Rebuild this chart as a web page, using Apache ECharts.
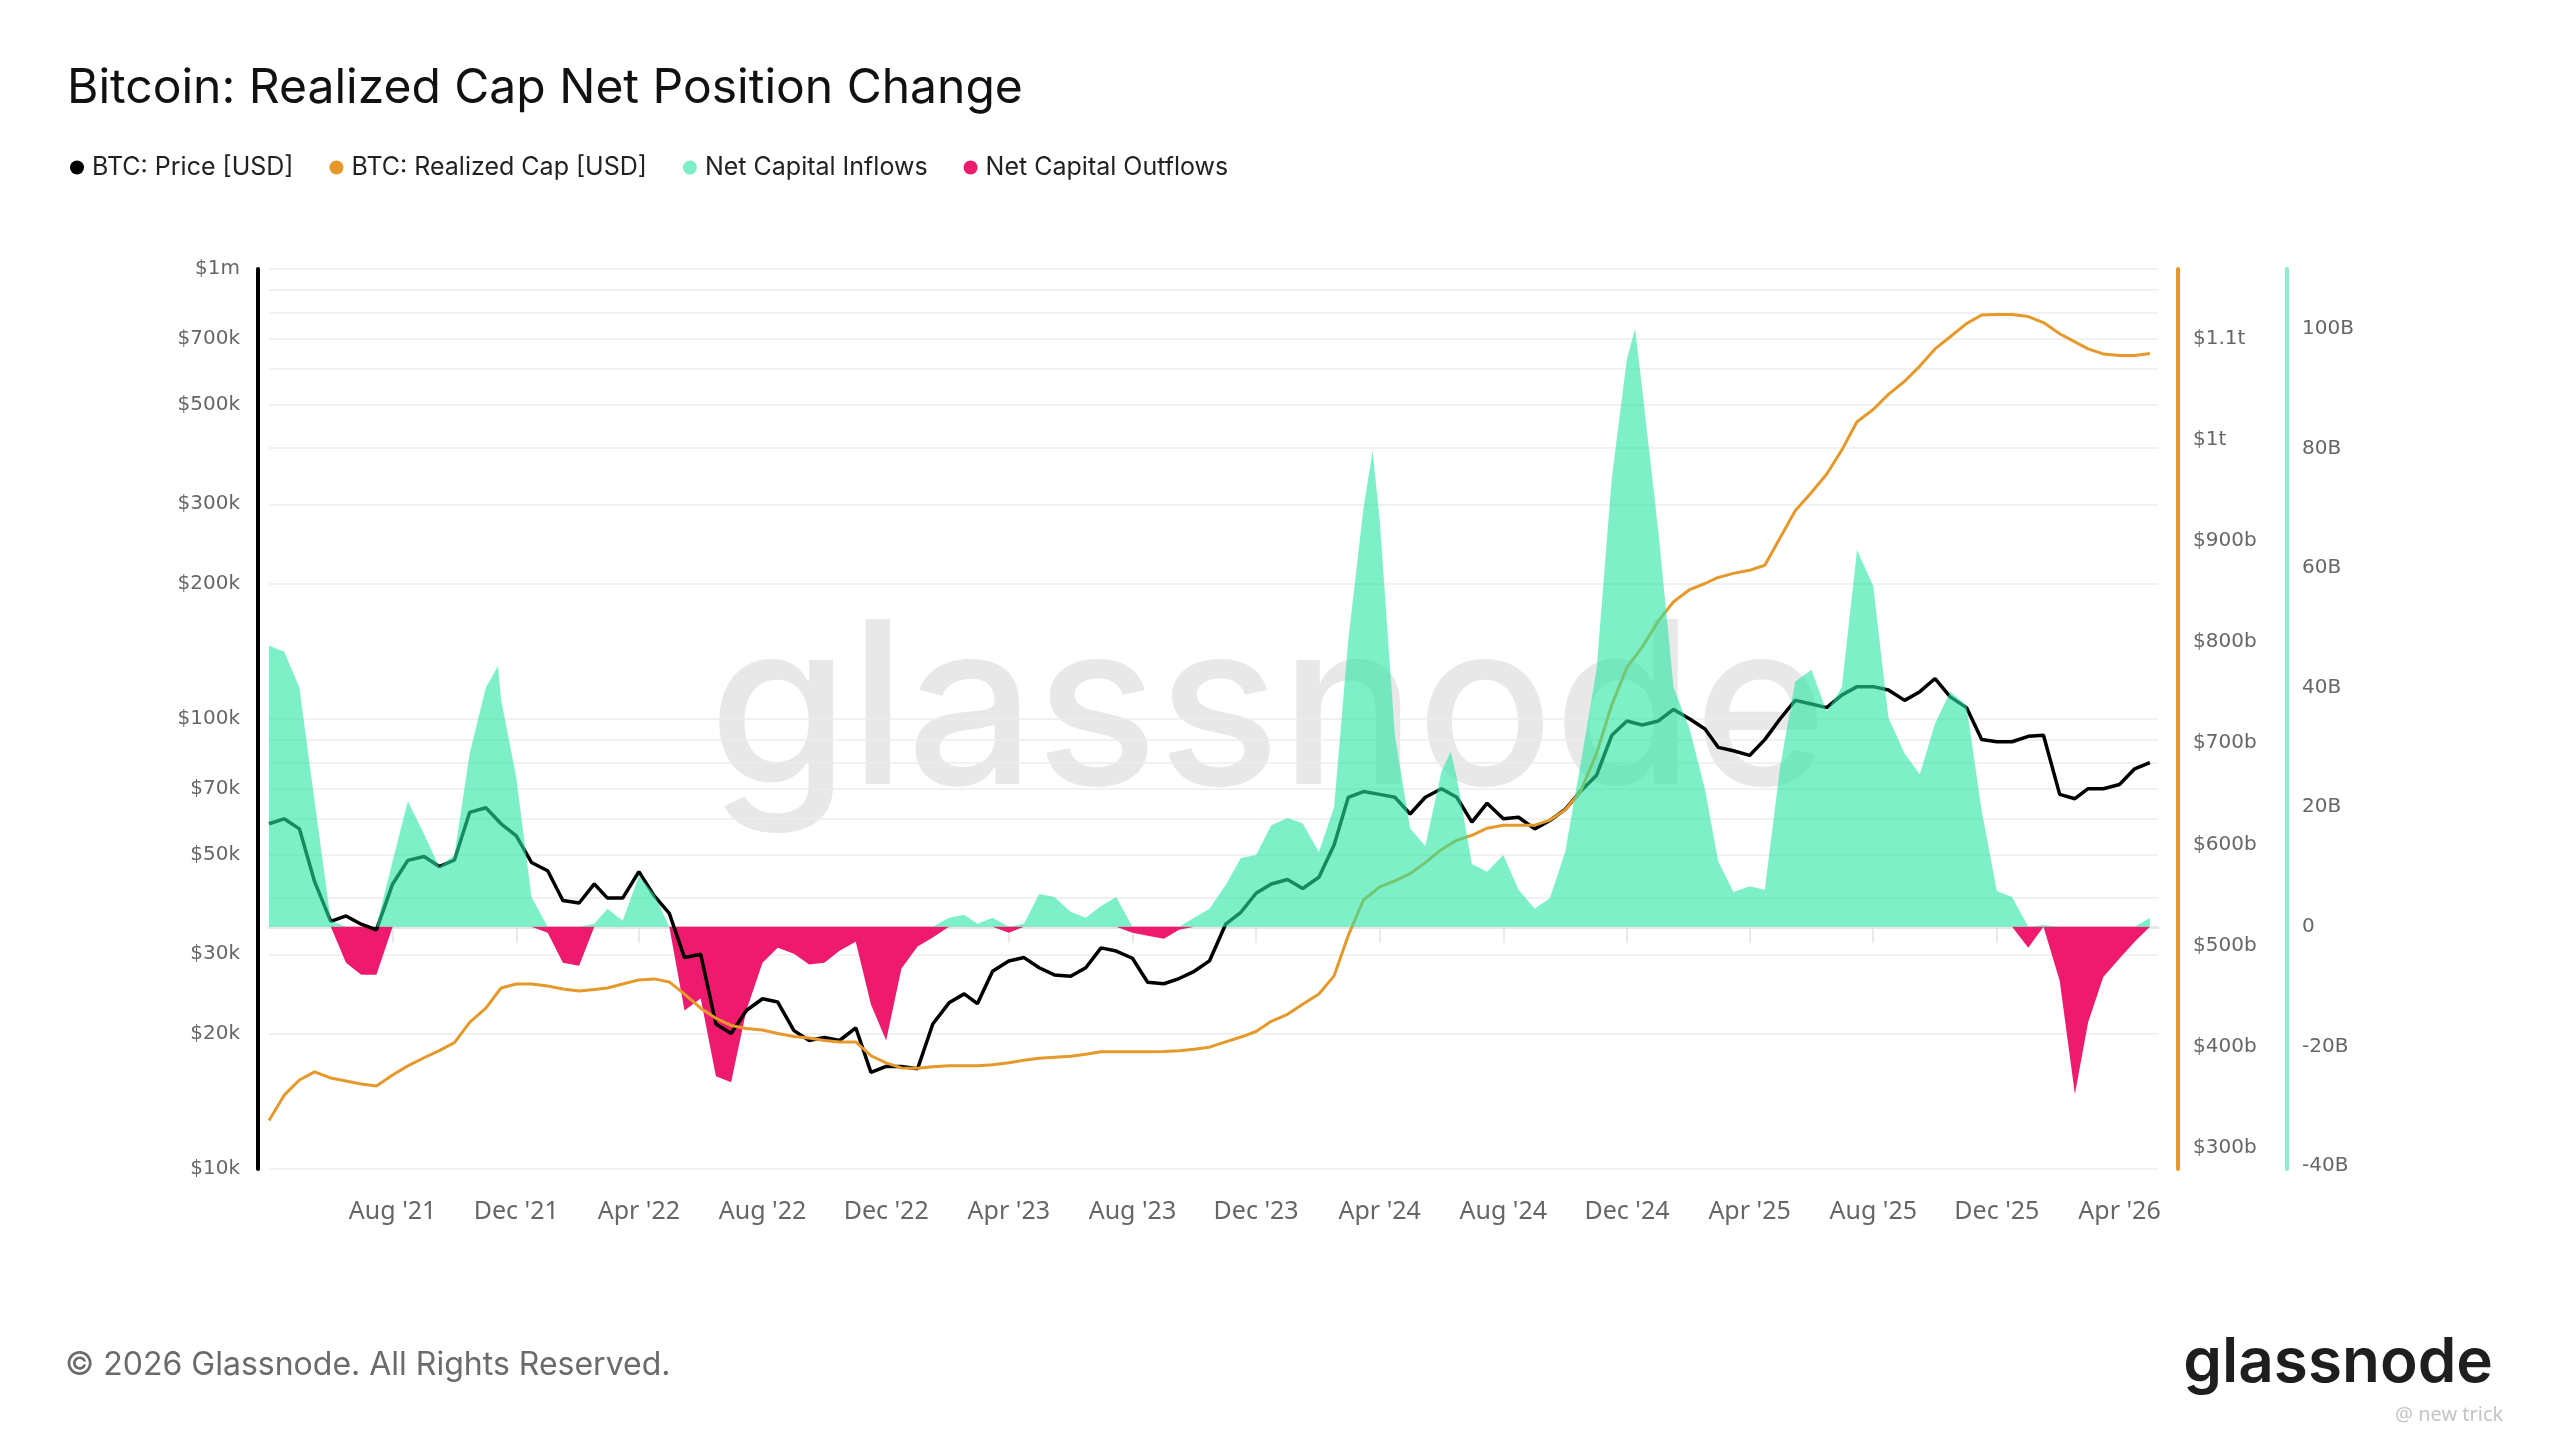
<!DOCTYPE html>
<html>
<head>
<meta charset="utf-8">
<title>Bitcoin: Realized Cap Net Position Change</title>
<script src="https://cdn.jsdelivr.net/npm/echarts@6.0.0/dist/echarts.min.js"></script>
<style>
  html, body { margin: 0; padding: 0; background: #ffffff; }
  #main { width: 2560px; height: 1440px; }
</style>
</head>
<body>
<div id="main"></div>
<script>
// samples on the 1st and 16th of each month, starting 1 Apr 2021
var priceK = [
  58.5, 60, 57, 43.5, 35.5, 36.5, 35, 34, 43, 48.5, 49.5, 47, 48.6, 62, 63.5, 58.5,
  55, 48, 46, 39.5, 39, 43, 40, 40, 45.8, 40.5, 37, 29.5, 30, 21, 20, 22.5,
  23.9, 23.5, 20.3, 19.3, 19.6, 19.3, 20.6, 16.4, 16.9, 16.9, 16.7, 21, 23.4, 24.5, 23.3, 27.5,
  29, 29.5, 28, 27, 26.8, 28, 31, 30.5, 29.4, 26, 25.8, 26.5, 27.5, 29, 35, 37.2,
  41, 43, 44, 42, 44.5, 52.5, 67, 69, 68, 67, 61.5, 67, 70, 67, 59, 65,
  60, 60.5, 57, 59.5, 63, 69, 75, 92, 99, 97, 99, 105, 100, 95, 86.5, 85,
  83, 90, 100, 110, 108, 106, 113, 118, 118, 116, 110, 115, 123, 112, 106, 90,
  89, 89, 91.5, 92, 68, 66.5, 70, 70, 71.5, 77.5, 80
];
var realizedCapB = [
  327, 352, 367, 375, 369, 366, 363, 361, 372, 381, 389, 396, 404, 424, 438, 458,
  462, 462, 460, 457, 455, 456.5, 458, 462, 466, 467, 464, 452, 438, 428, 421, 418,
  416.5, 413, 410, 408.5, 406, 404.7, 404.7, 391, 384, 379, 378.7, 380, 381, 381, 381, 382,
  384, 386.5, 388.5, 389.5, 390.5, 392.5, 395, 395, 395, 395, 395.2, 396, 397.5, 399.5, 404.7, 409.5,
  415, 425, 432, 442, 452, 470, 510, 545, 558, 564, 571, 582, 595, 604, 609, 616,
  619, 619, 619, 624, 634, 652, 690, 738, 775, 795, 821, 840, 852, 858, 864, 868,
  871, 876, 903, 930, 948, 966, 990, 1018, 1030, 1045, 1058, 1073, 1090, 1102, 1115, 1123.5,
  1124, 1124, 1122, 1116, 1105, 1097, 1090, 1085, 1083.5, 1083.5, 1085.5
];
var netFlowB = [
  47, 46, 40, 21, 1, -6, -8, -8, 11, 21, 15.5, 10, 12, 29, 40, 38,
  25, 5, -1, -6, -6.5, 0.5, 3, 1, 8.5, 5.5, 0, -14, -12, -25, -26, -14,
  -6, -3.5, -4.5, -6.3, -6, -4, -2.5, -13, -19, -7, -3.3, -1.8, 1.5, 2, 0.5, 1.5,
  -1, 0.5, 5.5, 5, 2.5, 1.5, 3.5, 5, -1, -1.5, -2, -0.5, 1.5, 3, 7, 11.5,
  12, 17, 18.2, 17.3, 12.5, 20, 48, 70, 68, 32, 16.5, 13.5, 26, 25, 10.5, 9.2,
  12, 6.2, 3, 4.8, 12.5, 27, 43, 75, 95, 90, 66, 40, 33, 23, 11, 5.8,
  6.8, 6.2, 26.6, 41, 43, 36, 40, 63, 57, 35, 29, 25.5, 34, 39.3, 37, 19.4,
  6, 5, -3.5, 0.3, -9, -28, -16, -8.4, -5.3, -2.5, 1.5
];
// peak readings that fall between the regular samples
var netFlowPeaks = [
  [Date.UTC(2021, 10, 13), 43.6],
  [Date.UTC(2024, 2, 25), 79.6],
  [Date.UTC(2024, 5, 10), 29.3],
  [Date.UTC(2024, 11, 9), 100]
];

var priceLabels = [10, 20, 30, 50, 70, 100, 200, 300, 500, 700, 1000];
var priceGrid = [10, 20, 30, 40, 50, 60, 70, 80, 90, 100, 200, 300, 400, 500, 600, 700, 800, 900, 1000];
var capLabels = [300, 400, 500, 600, 700, 800, 900, 1000, 1100];
var flowLabels = [-40, -20, 0, 20, 40, 60, 80, 100];
var MONTHS = ['Jan', 'Feb', 'Mar', 'Apr', 'May', 'Jun', 'Jul', 'Aug', 'Sep', 'Oct', 'Nov', 'Dec'];

var dates = [];
for (var i = 0; i < priceK.length; i++) {
  dates.push(Date.UTC(2021, 3 + Math.floor(i / 2), i % 2 ? 16 : 1));
}
var monthTicks = [];
for (var m = 0; m <= 56; m += 4) {
  monthTicks.push(Date.UTC(2021, 7 + m, 1));
}

var flowRows = netFlowB.map(function (v, i) { return [dates[i], v]; })
  .concat(netFlowPeaks)
  .sort(function (a, b) { return a[0] - b[0]; });

var ORANGE = '#E5992A';
var TEAL = '#7DEEC8';
var PINK = '#EE1A6E';
var labelGray = '#666666';

var chart = echarts.init(document.getElementById('main'), null, { renderer: 'canvas' });

var option = {
  backgroundColor: '#ffffff',
  animation: false,
  title: {
    text: 'Bitcoin: Realized Cap Net Position Change',
    left: 62,
    top: 60,
    textStyle: { fontFamily: 'Inter', fontSize: 48, fontWeight: 'normal', color: '#111111' }
  },
  legend: {
    left: 65,
    top: 150,
    icon: 'circle',
    itemWidth: 20,
    itemHeight: 14,
    itemGap: 36,
    textStyle: { fontFamily: 'Inter', fontSize: 25, color: '#222222' },
    data: ['BTC: Price [USD]', 'BTC: Realized Cap [USD]', 'Net Capital Inflows', 'Net Capital Outflows']
  },
  graphic: [
    {
      type: 'text', x: 1268, y: 716, z: -10, silent: true,
      style: {
        text: 'glassnode', fontFamily: 'Inter', fontSize: 227, fontWeight: 500,
        fill: '#e8e8e8', align: 'center', verticalAlign: 'middle'
      }
    },
    {
      type: 'text', x: 65, y: 1365,
      style: {
        text: '\u00a9 2026 Glassnode. All Rights Reserved.', fontFamily: 'Inter', fontSize: 32,
        fill: '#6b6b6b', align: 'left', verticalAlign: 'middle'
      }
    },
    {
      type: 'text', x: 2493, y: 1363,
      style: {
        text: 'glassnode', fontFamily: 'Inter', fontSize: 62, fontWeight: 600,
        fill: '#1e1e1e', align: 'right', verticalAlign: 'middle'
      }
    },
    {
      type: 'text', x: 2395, y: 1415,
      style: {
        text: '@ new trick', fontFamily: 'Noto Sans', fontSize: 20,
        fill: '#c4c4c4', align: 'left', verticalAlign: 'middle'
      }
    }
  ],
  grid: { left: 269, right: 402, top: 269, bottom: 271 },
  xAxis: {
    type: 'value',
    min: Date.UTC(2021, 3, 1),
    max: Date.UTC(2026, 4, 9),
    axisLine: { show: true, lineStyle: { color: '#e6e6e6', width: 3 } },
    axisTick: { show: true, customValues: monthTicks, length: 16, lineStyle: { color: '#e3e3e3', width: 1.5 } },
    axisLabel: {
      customValues: monthTicks,
      margin: 30,
      fontFamily: 'Noto Sans',
      fontSize: 25,
      color: labelGray,
      formatter: function (v) {
        var d = new Date(v);
        return MONTHS[d.getUTCMonth()] + " '" + String(d.getUTCFullYear()).slice(2);
      }
    },
    splitLine: { show: false }
  },
  yAxis: [
    {
      type: 'log',
      logBase: 10,
      min: 10,
      max: 1000,
      position: 'left',
      offset: 11,
      axisLine: { show: true, lineStyle: { color: '#000000', width: 4 } },
      axisTick: { show: false, customValues: priceGrid },
      axisLabel: {
        customValues: priceLabels,
        margin: 18,
        fontFamily: 'DejaVu Sans',
        fontSize: 20,
        color: labelGray,
        formatter: function (v) {
          v = Math.round(v);
          return v >= 1000 ? '$' + v / 1000 + 'm' : '$' + v + 'k';
        }
      },
      splitLine: { show: true, lineStyle: { color: '#ececec', width: 1.5 } }
    },
    {
      type: 'value',
      min: 279,
      max: 1169,
      position: 'right',
      offset: 20,
      axisLine: { show: true, lineStyle: { color: ORANGE, width: 4 } },
      axisTick: { show: false },
      axisLabel: {
        customValues: capLabels,
        margin: 15,
        fontFamily: 'DejaVu Sans',
        fontSize: 20,
        color: labelGray,
        formatter: function (v) {
          return v >= 1000 ? '$' + v / 1000 + 't' : '$' + v + 'b';
        }
      },
      splitLine: { show: false }
    },
    {
      type: 'value',
      min: -40.5,
      max: 110,
      position: 'right',
      offset: 129,
      axisLine: { show: true, lineStyle: { color: '#8eebd0', width: 4 } },
      axisTick: { show: false },
      axisLabel: {
        customValues: flowLabels,
        margin: 15,
        fontFamily: 'DejaVu Sans',
        fontSize: 20,
        color: labelGray,
        formatter: function (v) { return v === 0 ? '0' : v + 'B'; }
      },
      splitLine: { show: false }
    }
  ],
  series: [
    {
      name: 'Net Capital Outflows',
      type: 'line',
      yAxisIndex: 2,
      z: 1,
      showSymbol: false,
      itemStyle: { color: PINK },
      lineStyle: { width: 0 },
      areaStyle: { color: PINK, opacity: 1 },
      data: flowRows.map(function (r) { return [r[0], r[1] < 0 ? r[1] : 0]; })
    },
    {
      name: 'BTC: Price [USD]',
      type: 'line',
      yAxisIndex: 0,
      z: 2,
      showSymbol: false,
      itemStyle: { color: '#000000' },
      lineStyle: { color: '#000000', width: 3.5 },
      data: priceK.map(function (v, i) { return [dates[i], v]; })
    },
    {
      name: 'BTC: Realized Cap [USD]',
      type: 'line',
      yAxisIndex: 1,
      z: 2,
      showSymbol: false,
      itemStyle: { color: ORANGE },
      lineStyle: { color: ORANGE, width: 3 },
      data: realizedCapB.map(function (v, i) { return [dates[i], v]; })
    },
    {
      name: 'Net Capital Inflows',
      type: 'line',
      yAxisIndex: 2,
      z: 3,
      showSymbol: false,
      itemStyle: { color: TEAL },
      lineStyle: { width: 0 },
      areaStyle: { color: 'rgba(40, 230, 163, 0.6)', opacity: 1 },
      data: flowRows.map(function (r) { return [r[0], r[1] > 0 ? r[1] : 0]; })
    }
  ]
};

chart.setOption(option);
</script>
</body>
</html>
